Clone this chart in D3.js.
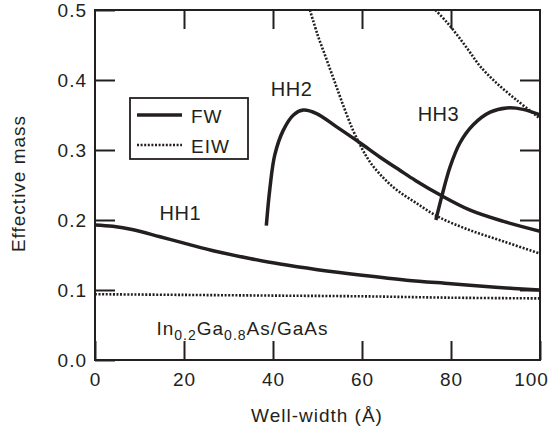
<!DOCTYPE html>
<html>
<head>
<meta charset="utf-8">
<script src="https://cdn.jsdelivr.net/npm/d3@7"></script>
<style>
  html, body { margin: 0; padding: 0; background: #fff; }
  svg text { font-family: "Liberation Sans", Arial, Helvetica, sans-serif; fill: #231f20; }
</style>
</head>
<body>
<svg id="chart" width="551" height="431"></svg>
<script>
// Heavy-hole in-plane effective mass vs. well width, In0.2Ga0.8As/GaAs
// FW = finite well model, EIW = equivalent infinite well model
const xTicks = [0, 20, 40, 60, 80, 100];
const yTicks = [0.0, 0.1, 0.2, 0.3, 0.4, 0.5];

const hh1FW = [[0,0.193],[4,0.191],[8.6,0.186],[14.6,0.176],[20,0.167],[27.3,0.155],[34.8,0.145],[41.6,0.137],[50,0.129],[60,0.121],[70,0.114],[80,0.109],[90,0.104],[100,0.100]];
const hh1EIW = [[0,0.094],[20,0.093],[40,0.092],[60,0.091],[80,0.089],[100,0.088]];
const hh2FW = [[38.5,0.192],[39.3,0.245],[40.4,0.293],[42.3,0.328],[44.6,0.350],[46.8,0.357],[49.8,0.352],[54.3,0.333],[59.6,0.310],[64,0.290],[68.5,0.271],[72,0.2565],[77.5,0.236],[84.3,0.214],[91.8,0.198],[100,0.184]];
const hh2EIW = [[48.3,0.5],[50,0.465],[52,0.430],[54,0.395],[56,0.360],[58,0.328],[60,0.302],[62,0.281],[65,0.259],[68,0.242],[72,0.225],[77,0.205],[84,0.186],[92,0.169],[100,0.152]];
const hh3FW = [[76.6,0.200],[77.9,0.233],[79.8,0.276],[82,0.310],[85,0.336],[88.8,0.354],[92.5,0.360],[96.2,0.358],[100,0.350]];
const hh3EIW = [[76.5,0.5],[79,0.483],[81.3,0.465],[84,0.442],[86.5,0.420],[90,0.397],[94.8,0.371],[100,0.345]];

const svg = d3.select("#chart");
const m = { left: 95, top: 10, right: 540, bottom: 360 };
const x = d3.scaleLinear().domain([0, 100]).range([m.left, m.right]);
const y = d3.scaleLinear().domain([0, 0.5]).range([m.bottom, m.top]);

const ink = "#231f20";
const fontSize = 19;

// axes with inward ticks on all four sides
function styleAxis(g) {
  g.select(".domain").remove();
  g.selectAll(".tick line").attr("stroke", ink).attr("stroke-width", 2);
  g.selectAll(".tick text").attr("font-size", fontSize).attr("letter-spacing", 1).attr("fill", ink);
}
svg.append("g").attr("transform", `translate(0,${m.bottom})`)
  .call(d3.axisBottom(x).tickValues(xTicks).tickSize(-19).tickPadding(13).tickFormat(d3.format("d")))
  .call(styleAxis)
  .call(g => g.selectAll(".tick text").filter(d => d === 100).attr("dx", -9));
svg.append("g").attr("transform", `translate(0,${m.top})`)
  .call(d3.axisTop(x).tickValues(xTicks.slice(1, -1)).tickSize(-19).tickFormat(""))
  .call(styleAxis);
svg.append("g").attr("transform", `translate(${m.left},0)`)
  .call(d3.axisLeft(y).tickValues(yTicks).tickSize(-20).tickPadding(8).tickFormat(d3.format(".1f")))
  .call(styleAxis);
svg.append("g").attr("transform", `translate(${m.right},0)`)
  .call(d3.axisRight(y).tickValues(yTicks.slice(1, -1)).tickSize(-20).tickFormat(""))
  .call(styleAxis);

// plot frame
svg.append("rect")
  .attr("x", m.left).attr("y", m.top)
  .attr("width", m.right - m.left).attr("height", m.bottom - m.top)
  .attr("fill", "none").attr("stroke", ink).attr("stroke-width", 2);

// curves
svg.append("clipPath").attr("id", "plotclip")
  .append("rect").attr("x", m.left).attr("y", m.top)
  .attr("width", m.right - m.left).attr("height", m.bottom - m.top);
const line = d3.line().x(d => x(d[0])).y(d => y(d[1])).curve(d3.curveCatmullRom.alpha(0.5));
const plot = svg.append("g").attr("clip-path", "url(#plotclip)");

const solid = { width: 3.5, dash: null };
const dotted = { width: 2.6, dash: "2,1.6" };
[[hh1EIW, dotted], [hh2EIW, dotted], [hh3EIW, dotted],
 [hh1FW, solid], [hh2FW, solid], [hh3FW, solid]].forEach(([data, st]) => {
  plot.append("path").datum(data)
    .attr("d", line)
    .attr("fill", "none")
    .attr("stroke", ink)
    .attr("stroke-width", st.width)
    .attr("stroke-dasharray", st.dash)
    .attr("stroke-linecap", "butt");
});

// subband labels
const labels = [["HH1", 14.5, 0.200], ["HH2", 39.5, 0.377], ["HH3", 72.5, 0.341]];
labels.forEach(([t, lx, ly]) => {
  svg.append("text").attr("x", x(lx)).attr("y", y(ly))
    .attr("font-size", 20).attr("letter-spacing", 0.5).text(t);
});

// material label
const mat = svg.append("text").attr("x", x(13.8)).attr("y", y(0.036))
  .attr("font-size", fontSize).attr("letter-spacing", 1);
mat.append("tspan").text("In");
mat.append("tspan").attr("font-size", 14).attr("dy", 5).text("0.2");
mat.append("tspan").attr("dy", -5).text("Ga");
mat.append("tspan").attr("font-size", 14).attr("dy", 5).text("0.8");
mat.append("tspan").attr("dy", -5).text("As/GaAs");

// legend
const legend = svg.append("g");
legend.append("rect").attr("x", 130).attr("y", 98).attr("width", 118).attr("height", 61)
  .attr("fill", "#fff").attr("stroke", ink).attr("stroke-width", 1.8);
[["FW", solid, 115], ["EIW", dotted, 145]].forEach(([t, st, ly]) => {
  legend.append("line").attr("x1", 137).attr("x2", 182).attr("y1", ly).attr("y2", ly)
    .attr("stroke", ink).attr("stroke-width", st.width).attr("stroke-dasharray", st.dash);
  legend.append("text").attr("x", 191).attr("y", ly + 7.5)
    .attr("font-size", fontSize).attr("letter-spacing", 1).text(t);
});

// axis titles
svg.append("text").attr("x", (m.left + m.right) / 2 - 0.5).attr("y", 422)
  .attr("text-anchor", "middle").attr("font-size", fontSize).attr("letter-spacing", 1)
  .text("Well-width (Å)");
svg.append("text").attr("transform", `translate(25,${(115 + 252) / 2}) rotate(-90)`)
  .attr("text-anchor", "middle").attr("font-size", fontSize).attr("letter-spacing", 1)
  .text("Effective mass");
</script>
</body>
</html>
